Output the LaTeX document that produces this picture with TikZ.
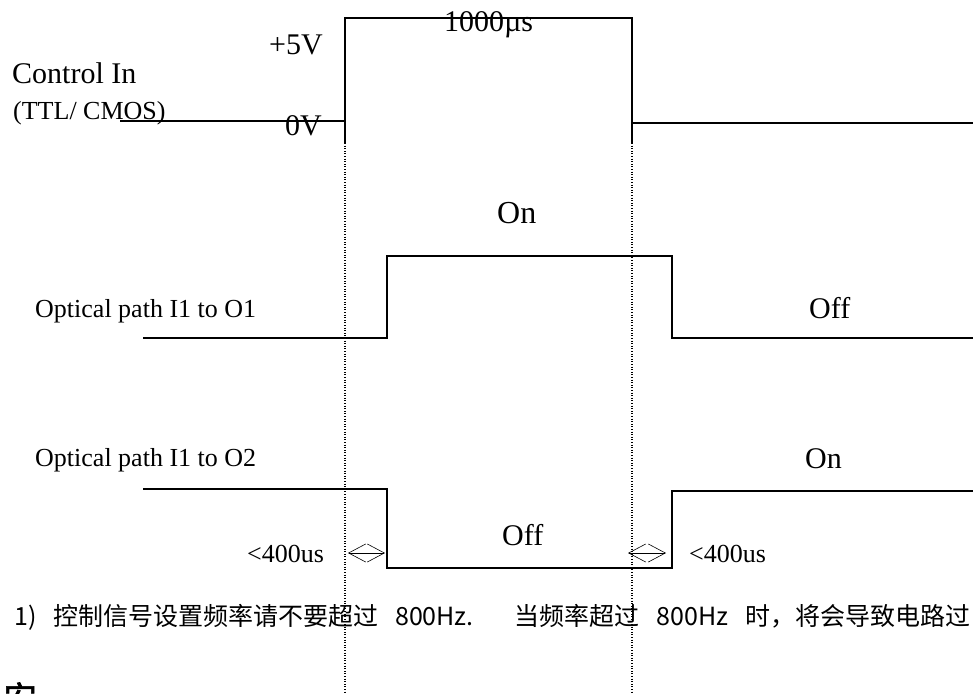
\documentclass[tikz,border=0pt]{standalone}
\usepackage{fontspec}
\setmainfont{Liberation Serif}
\newfontfamily\cjk{Noto Sans CJK SC}
\newfontfamily\cjkhead[FakeBold=2]{Noto Sans CJK SC}
\usetikzlibrary{arrows.meta}

\tikzset{
  sig/.style={line width=1.7pt},
  guide/.style={line width=1.1pt, dash pattern=on 1pt off 1.6pt},
  lbl/.style={inner sep=0pt, anchor=base west, font=\fontsize{30}{32}\selectfont},
  small lbl/.style={lbl, font=\fontsize{26}{28}\selectfont},
  gap/.style={line width=0.6pt,
    {Straight Barb[length=17pt,width=18pt]}-{Straight Barb[length=17pt,width=18pt]}}
}

\begin{document}
\begin{tikzpicture}[x=1pt,y=-1pt]
  \useasboundingbox (0,0) rectangle (973,693);
  \clip (0,0) rectangle (973,693);

  % control input
  \coordinate (c0) at (120,121);
  \coordinate (cr) at (345,121);
  \coordinate (crb) at (345,143);
  \coordinate (crt) at (345,18);
  \coordinate (cft) at (632,18);
  \coordinate (cfb) at (632,143);
  \coordinate (cf) at (632,123);
  \coordinate (c1) at (973,123);
  \draw[sig] (c0) -- (cr);
  \draw[sig] (crb) -- (crt) -- (cft) -- (cfb);
  \draw[sig] (cf) -- (c1);

  \coordinate (gl) at (345,693);
  \coordinate (gr) at (632,693);
  \draw[guide] (crb) -- (gl);
  \draw[guide] (cfb) -- (gr);

  \node[lbl] (ctrl) at (12,83) {Control In};
  \node[small lbl] (ttl) at (13,119) {(TTL/ CMOS)};
  \node[lbl] (high) at (269,55) {+5V};
  \node[lbl] (low) at (285,135) {0V};
  \node[lbl] (width) at (444,32) {1000µs};

  % optical path I1 to O1
  \coordinate (a0) at (143,338);
  \coordinate (a1) at (387,338);
  \coordinate (a2) at (387,256);
  \coordinate (a3) at (672,256);
  \coordinate (a4) at (672,338);
  \coordinate (a5) at (973,338);
  \draw[sig] (a0) -- (a1) -- (a2) -- (a3) -- (a4) -- (a5);
  \node[small lbl] (pa) at (35,317) {Optical path I1 to O1};
  \node[lbl, font=\fontsize{32}{34}\selectfont] (aon) at (497,223) {On};
  \node[lbl] (aoff) at (809,318) {Off};

  % optical path I1 to O2
  \coordinate (b0) at (143,489);
  \coordinate (b1) at (387,489);
  \coordinate (b2) at (387,568);
  \coordinate (b3) at (672,568);
  \coordinate (b4) at (672,491);
  \coordinate (b5) at (973,491);
  \draw[sig] (b0) -- (b1) -- (b2) -- (b3) -- (b4) -- (b5);
  \node[small lbl] (pb) at (35,466) {Optical path I1 to O2};
  \node[lbl] (bon) at (805,468) {On};
  \node[lbl] (boff) at (502,545) {Off};

  % switching delay
  \coordinate (d1) at (348,553);
  \coordinate (d2) at (385,553);
  \coordinate (d3) at (628,553);
  \coordinate (d4) at (666,553);
  \draw[gap] (d1) -- (d2);
  \draw[gap] (d3) -- (d4);
  \node[small lbl] (tl) at (247,562) {<400us};
  \node[small lbl] (tr) at (689,562) {<400us};

  % note
  \node[inner sep=0pt, anchor=base west, font=\cjk\fontsize{25}{27}\selectfont] (note) at (14,625)
    {\makebox[956pt][s]{1)\ 控制信号设置频率请不要超过 800Hz. 当频率超过 800Hz 时，将会导致电路过}};
  \node[inner sep=0pt, anchor=base west, font=\cjkhead\fontsize{34}{36}\selectfont] (head) at (3,711) {安};
\end{tikzpicture}
\end{document}
